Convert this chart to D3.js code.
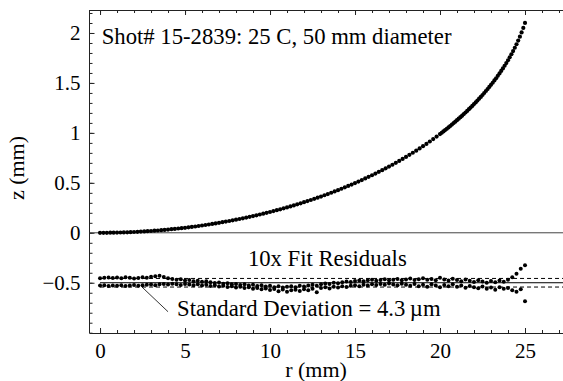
<!DOCTYPE html>
<html>
<head>
<meta charset="utf-8">
<script src="https://cdn.jsdelivr.net/npm/d3@7"></script>
<style>
html, body { margin: 0; padding: 0; background: #fff; }
svg { display: block; font-family: "Liberation Serif", "Times New Roman", serif; }
svg text { font-family: "Liberation Serif", "Times New Roman", serif !important; }
</style>
</head>
<body>
<svg id="chart" width="563" height="381"></svg>
<script>
// measured surface profile z(r), mm
var profileR = [0,0.2,0.4,0.6,0.8,1.0,1.2,1.4,1.6,1.8,2.0,2.2,2.4,2.6,2.8,3.0,3.2,3.4,3.6,3.8,
  4.0,4.2,4.4,4.6,4.8,5.0,5.2,5.4,5.6,5.8,6.0,6.2,6.4,6.6,6.8,7.0,7.2,7.4,7.6,7.8,
  8.0,8.2,8.4,8.6,8.8,9.0,9.2,9.4,9.6,9.8,10.0,10.2,10.4,10.6,10.8,11.0,11.2,11.4,11.6,11.8,
  12.0,12.2,12.4,12.6,12.8,13.0,13.2,13.4,13.6,13.8,14.0,14.2,14.4,14.6,14.8,15.0,15.2,15.4,15.6,15.8,
  16.0,16.2,16.4,16.6,16.8,17.0,17.2,17.4,17.6,17.8,18.0,18.2,18.4,18.6,18.8,19.0,19.2,19.4,19.6,19.8,
  20.0,20.1,20.2,20.3,20.4,20.5,20.6,20.7,20.8,20.9,21.0,21.1,21.2,21.3,21.4,21.5,21.6,21.7,21.8,21.9,
  22.0,22.1,22.2,22.3,22.4,22.5,22.6,22.7,22.8,22.9,23.0,23.1,23.2,23.3,23.4,23.5,23.6,23.7,23.8,23.9,
  24.0,24.1,24.2,24.3,24.4,24.5,24.6,24.7,24.8,24.9,25.0];
var profileZ = [0,0,0,0.001,0.001,0.002,0.003,0.004,0.005,0.006,
  0.008,0.010,0.012,0.014,0.016,0.018,0.021,0.023,0.026,0.029,
  0.032,0.036,0.039,0.043,0.046,0.050,0.055,0.059,0.063,0.068,
  0.073,0.078,0.083,0.089,0.094,0.100,0.106,0.112,0.118,0.125,
  0.131,0.138,0.145,0.152,0.160,0.167,0.175,0.183,0.191,0.200,
  0.208,0.217,0.226,0.235,0.245,0.254,0.264,0.274,0.285,0.295,
  0.306,0.317,0.328,0.340,0.352,0.363,0.376,0.388,0.401,0.414,
  0.427,0.441,0.455,0.469,0.483,0.498,0.513,0.528,0.544,0.560,
  0.576,0.593,0.610,0.627,0.645,0.663,0.681,0.700,0.719,0.739,
  0.759,0.780,0.801,0.822,0.844,0.867,0.890,0.914,0.938,0.963,
  0.988,1.001,1.015,1.028,1.041,1.055,1.069,1.083,1.098,1.112,
  1.127,1.142,1.157,1.172,1.188,1.204,1.220,1.237,1.253,1.270,
  1.288,1.305,1.323,1.342,1.360,1.379,1.399,1.419,1.439,1.460,
  1.481,1.502,1.525,1.547,1.571,1.595,1.620,1.645,1.672,1.699,
  1.727,1.756,1.787,1.819,1.852,1.887,1.924,1.963,2.006,2.051,2.101];

// 10x fit residuals, plotted about z = -0.5 (two scan sides)
var residR = [0,0.25,0.5,0.75,1,1.25,1.5,1.75,2,2.25,2.5,2.75,3,3.25,3.5,3.75,4,4.25,4.5,4.75,
  5,5.25,5.5,5.75,6,6.25,6.5,6.75,7,7.25,7.5,7.75,8,8.25,8.5,8.75,9,9.25,9.5,9.75,
  10,10.25,10.5,10.75,11,11.25,11.5,11.75,12,12.25,12.5,12.75,13,13.25,13.5,13.75,14,14.25,14.5,14.75,
  15,15.25,15.5,15.75,16,16.25,16.5,16.75,17,17.25,17.5,17.75,18,18.25,18.5,18.75,19,19.25,19.5,19.75,
  20,20.25,20.5,20.75,21,21.25,21.5,21.75,22,22.25,22.5,22.75,23,23.25,23.5,23.75,24,24.25,24.5,24.75,25];
var residA = [-0.455,-0.450,-0.447,-0.452,-0.448,-0.455,-0.446,-0.450,-0.458,-0.452,
  -0.445,-0.449,-0.440,-0.436,-0.430,-0.442,-0.455,-0.462,-0.470,-0.466,
  -0.478,-0.472,-0.484,-0.480,-0.490,-0.486,-0.495,-0.503,-0.498,-0.510,
  -0.505,-0.516,-0.512,-0.522,-0.515,-0.528,-0.520,-0.532,-0.525,-0.538,
  -0.530,-0.545,-0.536,-0.548,-0.540,-0.535,-0.546,-0.530,-0.538,-0.527,
  -0.520,-0.530,-0.515,-0.508,-0.512,-0.500,-0.505,-0.494,-0.488,-0.492,
  -0.482,-0.478,-0.485,-0.474,-0.470,-0.480,-0.472,-0.466,-0.476,-0.470,
  -0.462,-0.474,-0.468,-0.458,-0.472,-0.465,-0.455,-0.470,-0.462,-0.475,
  -0.450,-0.468,-0.478,-0.460,-0.472,-0.485,-0.468,-0.480,-0.492,-0.476,
  -0.488,-0.500,-0.482,-0.495,-0.478,-0.490,-0.470,-0.445,-0.410,-0.360,-0.325];
var residB = [-0.528,-0.525,-0.532,-0.527,-0.530,-0.524,-0.533,-0.528,-0.522,-0.530,
  -0.526,-0.520,-0.518,-0.524,-0.515,-0.512,-0.518,-0.510,-0.515,-0.522,
  -0.512,-0.518,-0.525,-0.515,-0.528,-0.520,-0.532,-0.525,-0.538,-0.530,
  -0.542,-0.535,-0.548,-0.540,-0.553,-0.545,-0.560,-0.552,-0.566,-0.558,
  -0.572,-0.563,-0.585,-0.568,-0.590,-0.575,-0.570,-0.582,-0.565,-0.575,
  -0.560,-0.595,-0.552,-0.545,-0.558,-0.540,-0.548,-0.535,-0.542,-0.530,
  -0.525,-0.535,-0.520,-0.528,-0.515,-0.522,-0.512,-0.520,-0.508,-0.518,
  -0.525,-0.510,-0.520,-0.530,-0.512,-0.535,-0.520,-0.540,-0.515,-0.528,
  -0.545,-0.522,-0.535,-0.515,-0.540,-0.528,-0.550,-0.532,-0.545,-0.555,
  -0.538,-0.560,-0.548,-0.570,-0.545,-0.560,-0.552,-0.575,-0.590,-0.565,-0.685];

var residBase = -0.5, residSigma = 0.043; // 10 x 4.3 um

var xMajor = [0, 5, 10, 15, 20, 25];
var xMinor = [0,1,2,3,4,5,6,7,8,9,10,11,12,13,14,15,16,17,18,19,20,21,22,23,24,25,26,27];
var yMajor = [-0.5, 0, 0.5, 1, 1.5, 2];
var yMinor = [-1.0,-0.9,-0.8,-0.7,-0.6,-0.5,-0.4,-0.3,-0.2,-0.1,0,0.1,0.2,0.3,0.4,0.5,0.6,0.7,0.8,0.9,
  1.0,1.1,1.2,1.3,1.4,1.5,1.6,1.7,1.8,1.9,2.0,2.1,2.2];

var serifFont = "Liberation Serif, Times New Roman, serif";
var svg = d3.select("#chart");
var x = d3.scaleLinear().domain([-0.62, 27.5]).range([89.5, 567.5]);
var y = d3.scaleLinear().domain([-1.003, 2.23]).range([333, 10]);
var pLeft = 89.5, pRight = 563, pTop = 10, pBottom = 333;

svg.append("defs").append("clipPath").attr("id", "plotClip")
  .append("rect").attr("x", pLeft).attr("y", pTop).attr("width", pRight - pLeft).attr("height", pBottom - pTop);

// axes, ticks pointing inward
function styleAxis(g) {
  g.attr("font-family", serifFont).attr("font-size", 21);
  g.select(".domain").remove();
  g.selectAll(".tick line").attr("stroke", "#222");
  g.selectAll(".tick text").attr("fill", "#000").attr("font-family", serifFont);
}
svg.append("g").attr("transform", "translate(" + pLeft + ",0)")
  .call(d3.axisLeft(y).tickValues(yMinor).tickSize(-3).tickFormat("")).call(styleAxis);
svg.append("g").attr("transform", "translate(" + pLeft + ",0)")
  .call(d3.axisLeft(y).tickValues(yMajor).tickSize(-5).tickPadding(9).tickFormat(d3.format("~g"))).call(styleAxis);
svg.append("g").attr("transform", "translate(0," + pBottom + ")")
  .call(d3.axisBottom(x).tickValues(xMinor).tickSize(-3).tickFormat("")).call(styleAxis);
svg.append("g").attr("transform", "translate(0," + pBottom + ")")
  .call(d3.axisBottom(x).tickValues(xMajor).tickSize(-5).tickPadding(10).tickFormat(d3.format("~g"))).call(styleAxis);
svg.append("g").attr("transform", "translate(0," + pTop + ")")
  .call(d3.axisTop(x).tickValues(xMinor).tickSize(-3).tickFormat("")).call(styleAxis);
svg.append("g").attr("transform", "translate(0," + pTop + ")")
  .call(d3.axisTop(x).tickValues(xMajor).tickSize(-5).tickFormat("")).call(styleAxis);

// frame
var frame = svg.append("g").attr("stroke", "#222").attr("stroke-width", 1).attr("fill", "none");
frame.append("line").attr("x1", pLeft).attr("x2", pLeft).attr("y1", pTop).attr("y2", pBottom);
frame.append("line").attr("x1", pLeft).attr("x2", pRight).attr("y1", pBottom + 0.5).attr("y2", pBottom + 0.5);
frame.append("line").attr("x1", pLeft).attr("x2", pRight).attr("y1", pTop + 0.5).attr("y2", pTop + 0.5);

var plot = svg.append("g").attr("clip-path", "url(#plotClip)");

// zero line
plot.append("line").attr("x1", pLeft).attr("x2", pRight)
  .attr("y1", y(0)).attr("y2", y(0)).attr("stroke", "#444").attr("stroke-width", 1);

// residual reference lines
plot.append("line").attr("x1", x(0)).attr("x2", pRight)
  .attr("y1", y(residBase)).attr("y2", y(residBase)).attr("stroke", "#000").attr("stroke-width", 1);
[residBase + residSigma, residBase - residSigma].forEach(function (v) {
  plot.append("line").attr("x1", x(0)).attr("x2", pRight)
    .attr("y1", y(v)).attr("y2", y(v)).attr("stroke", "#000").attr("stroke-width", 1)
    .attr("stroke-dasharray", "4,3");
});

// points
var profile = profileR.map(function (r, i) { return { r: r, z: profileZ[i] }; });
var resid = residR.map(function (r, i) { return { r: r, z: residA[i] }; })
  .concat(residR.map(function (r, i) { return { r: r, z: residB[i] }; }));

plot.append("g").selectAll("circle").data(profile).enter().append("circle")
  .attr("cx", function (d) { return x(d.r); }).attr("cy", function (d) { return y(d.z); })
  .attr("r", 2.1).attr("fill", "#000");
plot.append("g").selectAll("circle").data(resid).enter().append("circle")
  .attr("cx", function (d) { return x(d.r); }).attr("cy", function (d) { return y(d.z); })
  .attr("r", 2.0).attr("fill", "#000");

// leader line for std dev label
svg.append("line").attr("x1", x(2.45)).attr("y1", y(-0.54)).attr("x2", x(4.0)).attr("y2", y(-0.79))
  .attr("stroke", "#000").attr("stroke-width", 0.8);

// texts
svg.append("text").attr("x", x(0.1)).attr("y", y(1.89)).attr("font-size", "22.7px")
  .text("Shot# 15-2839: 25 C, 50 mm diameter");
svg.append("text").attr("x", x(13.37)).attr("y", y(-0.337)).attr("font-size", "22.7px")
  .attr("text-anchor", "middle").text("10x Fit Residuals");
svg.append("text").attr("x", x(4.53)).attr("y", y(-0.837)).attr("font-size", "22.7px")
  .text("Standard Deviation = 4.3\u2009\u00b5m");

svg.append("text").attr("x", 316).attr("y", 377).attr("font-size", "22px")
  .attr("text-anchor", "middle").text("r (mm)");
svg.append("text").attr("transform", "translate(24,168) rotate(-90)").attr("font-size", "22px")
  .attr("text-anchor", "middle").text("z (mm)");
</script>
</body>
</html>
